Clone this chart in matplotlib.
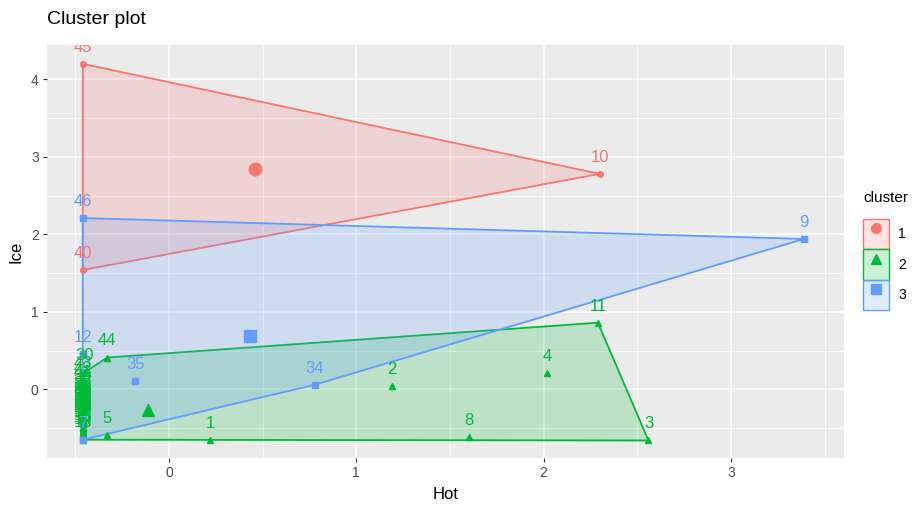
import numpy as np
import matplotlib
matplotlib.use("Agg")
import matplotlib.pyplot as plt
from matplotlib.patches import Patch, Polygon
from matplotlib.lines import Line2D
from matplotlib.legend_handler import HandlerTuple
from matplotlib.colors import to_rgba

plt.rcParams["font.family"] = ["Liberation Sans", "DejaVu Sans"]

# MARK: - Data (Hot / Ice coordinates of each observation, by cluster)
red_labels = ["45", "10", "40"]
red_hot = [-0.46, 2.30, -0.46]
red_ice = [4.20, 2.78, 1.54]

green_labels = ["44", "11", "3", "8", "1", "5", "2", "4", "30",
                "6", "13", "14", "15", "16", "17", "18", "19", "20", "21",
                "22", "23", "24", "25", "26", "27", "28", "29", "31", "32",
                "33", "36", "37", "38", "39", "41", "42", "43"]
green_hot = [-0.33, 2.29, 2.56, 1.60, 0.22, -0.33, 1.19, 2.02, -0.45,
             -0.46, -0.46, -0.46, -0.46, -0.46, -0.46, -0.46, -0.46, -0.46, -0.46,
             -0.46, -0.46, -0.46, -0.46, -0.46, -0.46, -0.46, -0.46, -0.46, -0.46,
             -0.46, -0.46, -0.46, -0.46, -0.46, -0.46, -0.46, -0.46]
green_ice = [0.41, 0.86, -0.66, -0.62, -0.65, -0.59, 0.04, 0.21, 0.22,
             -0.65, -0.64, -0.60, -0.58, -0.55, -0.52, -0.50, -0.48, -0.45, -0.43,
             -0.40, -0.38, -0.36, -0.34, -0.32, -0.30, -0.28, -0.26, -0.24, -0.22,
             -0.20, -0.17, -0.14, -0.10, -0.05, 0.00, 0.05, 0.12]

blue_labels = ["46", "9", "12", "35", "34", "7"]
blue_hot = [-0.46, 3.39, -0.46, -0.18, 0.78, -0.46]
blue_ice = [2.21, 1.94, 0.45, 0.11, 0.06, -0.65]

cluster_names = ["1", "2", "3"]
cluster_colors = ["#F8766D", "#00BA38", "#619CFF"]
cluster_markers = ["o", "^", "s"]


def convex_hull(xs, ys):
    pts = sorted(set(zip(xs, ys)))
    if len(pts) < 3:
        return pts

    def cross(o, a, b):
        return (a[0] - o[0]) * (b[1] - o[1]) - (a[1] - o[1]) * (b[0] - o[0])

    lower, upper = [], []
    for p in pts:
        while len(lower) >= 2 and cross(lower[-2], lower[-1], p) <= 0:
            lower.pop()
        lower.append(p)
    for p in reversed(pts):
        while len(upper) >= 2 and cross(upper[-2], upper[-1], p) <= 0:
            upper.pop()
        upper.append(p)
    return lower[:-1] + upper[:-1]


fig = plt.figure(figsize=(9.18, 5.09), dpi=100)
ax = fig.add_axes([0.0512, 0.1002, 0.8682, 0.8114])
ax.set_facecolor("#EBEBEB")

clusters = [
    (red_labels, red_hot, red_ice),
    (green_labels, green_hot, green_ice),
    (blue_labels, blue_hot, blue_ice),
]

# hulls first
for (labels, hot, ice), col in zip(clusters, cluster_colors):
    hull = convex_hull(hot, ice)
    ax.add_patch(Polygon(hull, closed=True, facecolor=to_rgba(col, 0.2),
                         edgecolor=col, linewidth=1.3, zorder=2))

# points, labels, centroids
for (labels, hot, ice), col, mk in zip(clusters, cluster_colors, cluster_markers):
    ax.plot(hot, ice, linestyle="none", marker=mk, color=col, markersize=4, zorder=3)
    for lab, x, y in zip(labels, hot, ice):
        ax.annotate(lab, (x, y), xytext=(0, 12), textcoords="offset points",
                    ha="center", va="center", color=col, fontsize=12,
                    clip_on=True, zorder=4)
    ax.plot(np.mean(hot), np.mean(ice), linestyle="none", marker=mk, color=col,
            markersize=9, zorder=5)

ax.set_xlim(-0.651, 3.604)
ax.set_ylim(-0.886, 4.443)
ax.set_xticks([0, 1, 2, 3])
ax.set_yticks([0, 1, 2, 3, 4])
ax.set_xticks([-0.5, 0.5, 1.5, 2.5, 3.5], minor=True)
ax.set_yticks([-0.5, 0.5, 1.5, 2.5, 3.5], minor=True)
ax.grid(which="major", color="white", linewidth=1.1, zorder=0)
ax.grid(which="minor", color="white", linewidth=0.55, zorder=0)
ax.set_axisbelow(True)
for s in ax.spines.values():
    s.set_visible(False)
ax.tick_params(which="major", length=3, width=0.8, color="#333333",
               labelcolor="#4D4D4D", labelsize=10, pad=3)
ax.tick_params(which="minor", length=0)

ax.set_xlabel("Hot", fontsize=12, color="black", labelpad=5)
ax.set_ylabel("Ice", fontsize=12, color="black", labelpad=5)
fig.text(0.0512, 0.962, "Cluster plot", fontsize=14, ha="left", va="center")

handles = [(Patch(facecolor=to_rgba(c, 0.2), edgecolor=c, linewidth=1.0),
            Line2D([], [], linestyle="none", marker=m, color=c, markersize=7))
           for c, m in zip(cluster_colors, cluster_markers)]
leg = fig.legend(handles, cluster_names, title="cluster",
                 handler_map={tuple: HandlerTuple(ndivide=1, pad=0)},
                 loc="upper left", bbox_to_anchor=(0.940, 0.625),
                 frameon=False, fontsize=10, title_fontsize=11,
                 handlelength=1.85, handleheight=3.0, labelspacing=0.0,
                 handletextpad=0.7, borderpad=0, borderaxespad=0)
leg._legend_box.align = "left"
leg._legend_box.sep = 10

fig.savefig("out.png", dpi=100)
